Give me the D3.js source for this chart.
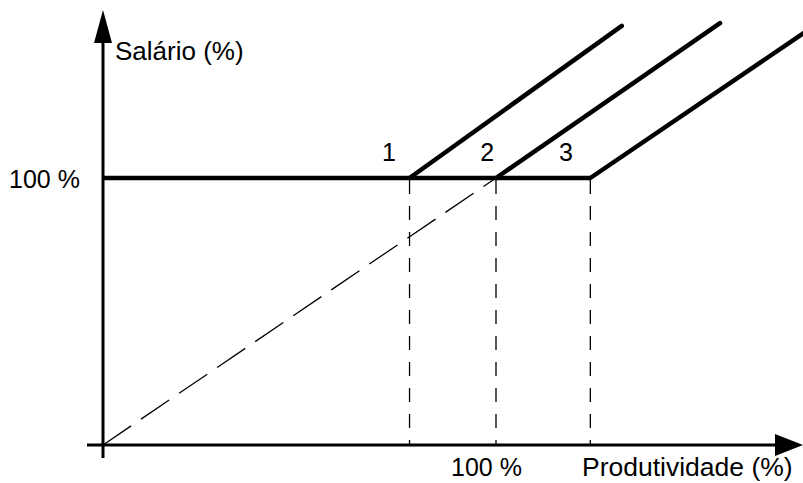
<!DOCTYPE html>
<html>
<head>
<meta charset="utf-8">
<script src="https://cdn.jsdelivr.net/npm/d3@7"></script>
<style>
  html, body { margin: 0; padding: 0; background: #fff; }
  svg { display: block; }
  text { font-family: "Liberation Sans", Arial, sans-serif; fill: #000; }
</style>
</head>
<body>
<svg id="chart" width="803" height="483"></svg>
<script>
// ---- data (productivity %, salary %) ----
const categories = ["1", "2", "3"];
const thresholds = [78, 100, 124];       // productivity where each line leaves the 100 % floor
const endProductivity = [132, 157, 179]; // productivity at the upper end of each line
const endSalary = [157, 158, 155];       // salary at the upper end of each line
const labelProductivity = [71, 96, 116]; // where the number labels sit
const floorSalary = 100;
const xTickLabel = "100 %";
const yTickLabel = "100 %";
const xTitle = "Produtividade (%)";
const yTitle = "Salário (%)";

const svg = d3.select("#chart");
const x = d3.scaleLinear().domain([0, 100]).range([103, 496]);
const y = d3.scaleLinear().domain([0, 100]).range([445, 178]);

// dashed diagonal from origin to the 100 % point
svg.append("line")
  .attr("x1", x(0)).attr("y1", y(0))
  .attr("x2", x(100)).attr("y2", y(floorSalary))
  .attr("stroke", "#000").attr("stroke-width", 1.3)
  .attr("stroke-dasharray", "34,12");

// vertical dashed drops
svg.selectAll("line.drop").data(thresholds).join("line")
  .attr("class", "drop")
  .attr("x1", d => x(d)).attr("x2", d => x(d))
  .attr("y1", y(floorSalary) + 2).attr("y2", y(0))
  .attr("stroke", "#000").attr("stroke-width", 1.3)
  .attr("stroke-dasharray", "14,12");

// axes
svg.append("line")
  .attr("x1", x(0)).attr("y1", 458).attr("x2", x(0)).attr("y2", 40)
  .attr("stroke", "#000").attr("stroke-width", 3);
svg.append("path")
  .attr("d", `M${x(0)},10 L${x(0) - 9},43 L${x(0) + 9},43 Z`)
  .attr("fill", "#000");
svg.append("line")
  .attr("x1", 87).attr("y1", y(0)).attr("x2", 778).attr("y2", y(0))
  .attr("stroke", "#000").attr("stroke-width", 3);
svg.append("path")
  .attr("d", `M803,${y(0)} L775,${y(0) - 11} L775,${y(0) + 11} Z`)
  .attr("fill", "#000");

// 100 % floor
svg.append("line")
  .attr("x1", x(0)).attr("y1", y(floorSalary))
  .attr("x2", x(d3.max(thresholds))).attr("y2", y(floorSalary))
  .attr("stroke", "#000").attr("stroke-width", 4.5);

// rising lines
svg.selectAll("line.rise").data(thresholds).join("line")
  .attr("class", "rise")
  .attr("x1", d => x(d)).attr("y1", y(floorSalary))
  .attr("x2", (d, i) => x(endProductivity[i])).attr("y2", (d, i) => y(endSalary[i]))
  .attr("stroke", "#000").attr("stroke-width", 4.5).attr("stroke-linecap", "round");

// number labels
svg.selectAll("text.num").data(categories).join("text")
  .attr("class", "num")
  .attr("x", (d, i) => x(labelProductivity[i]))
  .attr("y", 161)
  .attr("font-size", 25)
  .text(d => d);

// axis texts
svg.append("text").attr("x", 9).attr("y", 188).attr("font-size", 25).text(yTickLabel);
svg.append("text").attr("x", 451).attr("y", 476).attr("font-size", 25).text(xTickLabel);
svg.append("text").attr("x", 582).attr("y", 476).attr("font-size", 26.5).text(xTitle);
svg.append("text").attr("x", 115).attr("y", 60).attr("font-size", 26).text(yTitle);
</script>
</body>
</html>
